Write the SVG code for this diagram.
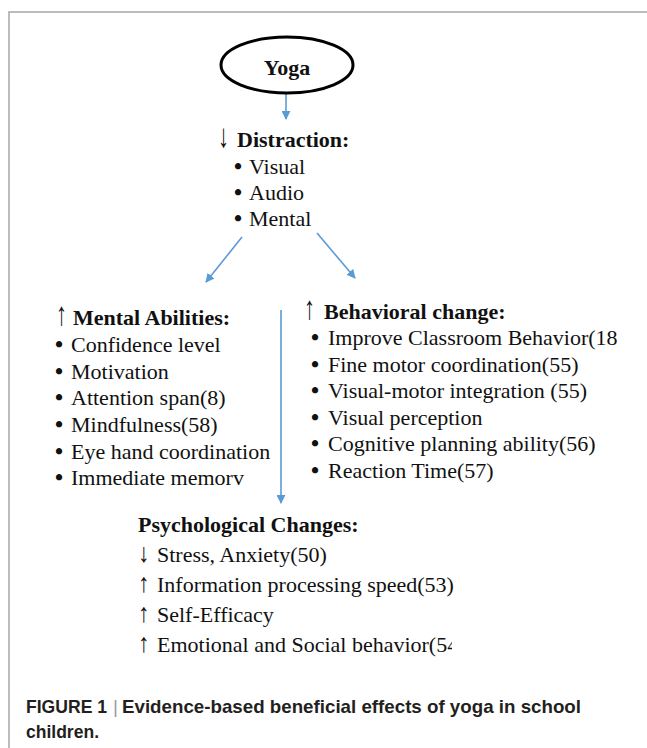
<svg xmlns="http://www.w3.org/2000/svg" width="647" height="748" viewBox="0 0 647 748">
<style>
.t{font-family:"Liberation Serif","Times New Roman","DejaVu Serif",serif;font-size:22px;fill:#111}
.b{font-weight:bold}
.bu{font-size:23px;font-weight:bold}
.ar{font-family:"Liberation Serif","Times New Roman",serif;font-size:22px;fill:#111}
.cap{font-family:"Liberation Sans",Arial,sans-serif;font-size:19px;font-weight:bold;fill:#231f20}
.sep{font-family:"Liberation Sans",Arial,sans-serif;font-size:19px;fill:#9a9a9a}
.con{stroke:#5b9bd5;stroke-width:1.6;fill:none}
</style>
<defs>
<marker id="ahb" viewBox="0 0 10 10" refX="9" refY="5" markerWidth="9" markerHeight="9" markerUnits="userSpaceOnUse" orient="auto">
<path d="M0,0 L10,5 L0,10 z" fill="#5b9bd5"/>
</marker>
<clipPath id="clipE"><rect x="0" y="600" width="452" height="80"/></clipPath>
</defs>
<rect width="647" height="748" fill="#fff"/>
<path d="M9,748 V12 H647" fill="none" stroke="#a6a6a6" stroke-width="1.5"/>

<g id="connectors">
<line class="con" x1="286" y1="94" x2="286" y2="119" marker-end="url(#ahb)"/>
<line class="con" x1="242" y1="237" x2="206" y2="282" marker-end="url(#ahb)"/>
<line class="con" x1="317" y1="233" x2="355" y2="278" marker-end="url(#ahb)"/>
<line class="con" x1="281" y1="310" x2="281" y2="503" marker-end="url(#ahb)"/>
</g>

<g id="yoga">
<ellipse cx="287" cy="65" rx="66" ry="28" fill="#fff" stroke="#000" stroke-width="3"/>
<text class="t b" x="287" y="75" text-anchor="middle">Yoga</text>
</g>

<g id="distraction">
<text class="ar b" transform="translate(218,147) scale(1,1.5)">↓</text>
<text class="t b" x="237" y="147">Distraction:</text>
<text class="t" x="234" y="174"><tspan class="bu">•</tspan><tspan x="249">Visual</tspan></text>
<text class="t" x="234" y="200"><tspan class="bu">•</tspan><tspan x="249">Audio</tspan></text>
<text class="t" x="234" y="226"><tspan class="bu">•</tspan><tspan x="249">Mental</tspan></text>
</g>

<g id="mental">
<text class="ar" transform="translate(56,325) scale(1,1.5)">↑</text>
<text class="t b" x="73" y="325">Mental Abilities:</text>
<text class="t" x="55" y="352"><tspan class="bu">•</tspan><tspan x="71">Confidence level</tspan></text>
<text class="t" x="55" y="379"><tspan class="bu">•</tspan><tspan x="71">Motivation</tspan></text>
<text class="t" x="55" y="405"><tspan class="bu">•</tspan><tspan x="71">Attention span(8)</tspan></text>
<text class="t" x="55" y="432"><tspan class="bu">•</tspan><tspan x="71">Mindfulness(58)</tspan></text>
<text class="t" x="55" y="459"><tspan class="bu">•</tspan><tspan x="71">Eye hand coordination</tspan></text>
<text class="t" x="55" y="485"><tspan class="bu">•</tspan><tspan x="71">Immediate memorv</tspan></text>
</g>

<g id="behavioral">
<text class="ar" transform="translate(304,319) scale(1,1.5)">↑</text>
<text class="t b" x="324" y="319">Behavioral change:</text>
<text class="t" x="311" y="345"><tspan class="bu">•</tspan><tspan x="328">Improve Classroom Behavior(18</tspan></text>
<text class="t" x="311" y="372"><tspan class="bu">•</tspan><tspan x="328">Fine motor coordination(55)</tspan></text>
<text class="t" x="311" y="398"><tspan class="bu">•</tspan><tspan x="328">Visual-motor integration (55)</tspan></text>
<text class="t" x="311" y="425"><tspan class="bu">•</tspan><tspan x="328">Visual perception</tspan></text>
<text class="t" x="311" y="451"><tspan class="bu">•</tspan><tspan x="328">Cognitive planning ability(56)</tspan></text>
<text class="t" x="311" y="478"><tspan class="bu">•</tspan><tspan x="328">Reaction Time(57)</tspan></text>
</g>

<g id="psychological">
<text class="t b" x="138" y="532">Psychological Changes:</text>
<text class="ar" transform="translate(138,562) scale(1.05,1.2)">↓</text>
<text class="ar" transform="translate(138,592) scale(1.05,1.2)">↑</text>
<text class="ar" transform="translate(138,622) scale(1.05,1.2)">↑</text>
<text class="ar" transform="translate(138,652) scale(1.05,1.2)">↑</text>
<text class="t" x="157" y="562">Stress, Anxiety(50)</text>
<text class="t" x="157" y="592">Information processing speed(53)</text>
<text class="t" x="157" y="622">Self-Efficacy</text>
<text class="t" x="157" y="652" clip-path="url(#clipE)">Emotional and Social behavior(54</text>
</g>

<g id="caption">
<text class="cap" x="26" y="713" textLength="81" lengthAdjust="spacingAndGlyphs">FIGURE 1</text>
<text class="sep" x="113" y="713">|</text>
<text class="cap" x="122" y="713" textLength="459" lengthAdjust="spacingAndGlyphs">Evidence-based beneficial effects of yoga in school</text>
<text class="cap" x="26" y="738" textLength="73" lengthAdjust="spacingAndGlyphs">children.</text>
</g>
</svg>
